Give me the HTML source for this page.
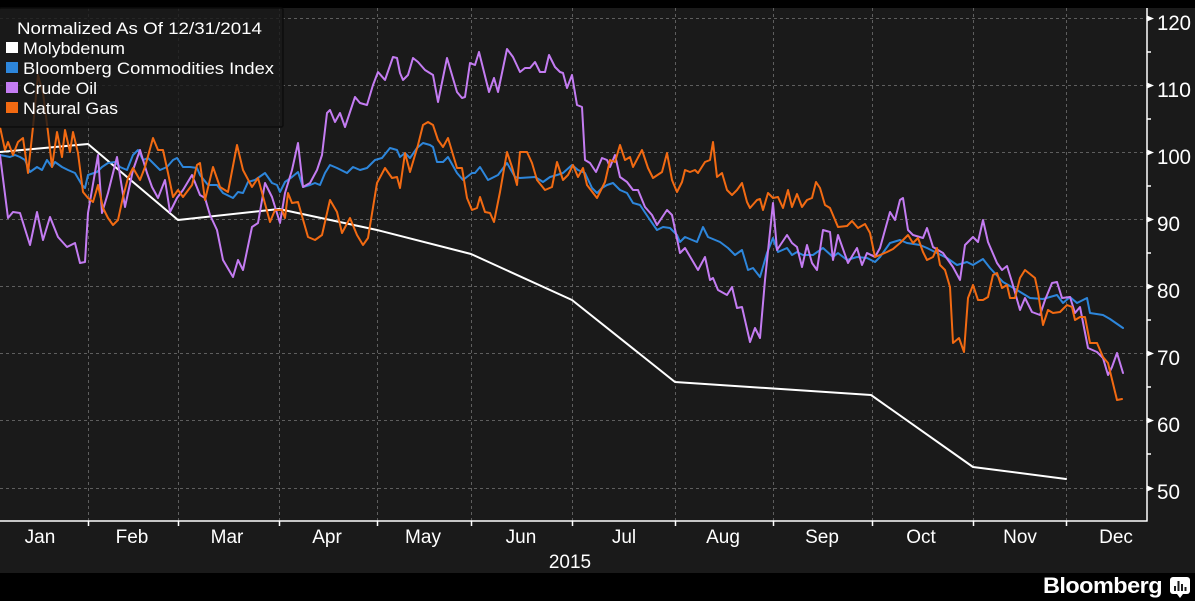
<!DOCTYPE html>
<html><head><meta charset="utf-8"><style>
html,body{margin:0;padding:0;background:#000;}
svg{display:block;}
text{font-family:"Liberation Sans","DejaVu Sans",sans-serif;fill:#fff;}
</style></head><body>
<svg width="1195" height="601" viewBox="0 0 1195 601" xmlns="http://www.w3.org/2000/svg">
<rect x="0" y="0" width="1195" height="601" fill="#000"/>
<rect x="0" y="8" width="1195" height="565" fill="#1a1a1a"/>
<!-- grid -->
<g stroke="#5e5e5e" stroke-width="1" stroke-dasharray="3,3" fill="none">
<line x1="0" y1="18.5" x2="1147" y2="18.5"/>
<line x1="0" y1="85.5" x2="1147" y2="85.5"/>
<line x1="0" y1="152.5" x2="1147" y2="152.5"/>
<line x1="0" y1="219.5" x2="1147" y2="219.5"/>
<line x1="0" y1="286.5" x2="1147" y2="286.5"/>
<line x1="0" y1="353.5" x2="1147" y2="353.5"/>
<line x1="0" y1="420.5" x2="1147" y2="420.5"/>
<line x1="0" y1="488.5" x2="1147" y2="488.5"/>
<line x1="88.5" y1="8" x2="88.5" y2="521"/>
<line x1="178.5" y1="8" x2="178.5" y2="521"/>
<line x1="279.5" y1="8" x2="279.5" y2="521"/>
<line x1="377.5" y1="8" x2="377.5" y2="521"/>
<line x1="471.5" y1="8" x2="471.5" y2="521"/>
<line x1="572.5" y1="8" x2="572.5" y2="521"/>
<line x1="675.5" y1="8" x2="675.5" y2="521"/>
<line x1="773.5" y1="8" x2="773.5" y2="521"/>
<line x1="872.5" y1="8" x2="872.5" y2="521"/>
<line x1="973.5" y1="8" x2="973.5" y2="521"/>
<line x1="1066.5" y1="8" x2="1066.5" y2="521"/>
</g>
<!-- series -->
<g fill="none" stroke-width="2" stroke-linejoin="round" stroke-linecap="round">
<polyline stroke="#ffffff" points="0,152 88,144 178,220 279,209 377,230 471,254 572,300 675,382 871,395 973,467 1066,479"/>
<polyline stroke="#2d86db" points="0,155 10,157 15,155 20,157 25,160 30,172 37,167 42,170 47,160 52,167 55,162 62,167 68,170 75,173 82,185 85,188 88,175 97,172 102,167 108,163 115,162 120,167 127,170 133,155 138,150 143,160 148,158 153,163 160,170 167,167 173,160 177,158 183,167 190,167 197,168 200,175 208,185 217,185 223,193 233,198 238,192 243,193 248,182 255,180 265,173 272,183 277,185 280,192 285,182 292,177 298,172 303,187 310,185 315,183 320,185 325,173 330,165 337,168 347,173 353,167 360,170 367,168 375,160 382,158 390,148 397,150 400,157 405,153 410,158 417,148 423,143 430,145 433,147 437,162 443,162 448,157 457,173 463,180 472,173 475,173 480,167 488,180 498,175 507,163 515,177 520,178 535,177 540,180 543,182 550,177 557,175 563,173 572,165 578,170 585,173 592,188 597,193 602,188 607,185 613,183 620,190 627,193 633,203 640,205 648,217 657,230 663,227 670,228 677,235 680,242 685,237 697,242 703,227 708,237 720,242 728,248 735,255 742,250 748,270 753,268 760,277 767,253 773,238 778,252 787,248 792,255 797,252 803,255 813,255 823,248 833,257 838,253 847,260 857,257 867,258 875,262 880,257 890,243 900,240 907,243 920,245 927,248 937,253 947,258 957,265 967,262 973,265 983,259 990,268 1003,282 1017,290 1030,298 1043,299 1057,295 1063,303 1070,297 1077,303 1087,298 1090,313 1103,315 1110,319 1123,328"/>
<polyline stroke="#c47cf2" points="0,155 8,218 13,212 20,213 30,245 37,212 43,240 50,217 58,237 67,247 75,243 80,263 85,262 88,213 98,155 102,213 108,193 117,157 125,207 133,170 140,150 147,173 152,187 158,198 165,180 170,212 177,198 183,190 192,175 200,195 205,198 210,215 217,230 223,260 233,277 238,260 243,270 252,227 258,223 265,183 272,197 280,223 285,193 292,170 298,143 303,187 310,183 317,170 322,155 327,113 330,110 335,122 340,113 345,127 355,97 360,103 367,105 373,85 378,72 385,80 393,57 397,58 400,73 403,80 408,75 413,58 418,62 425,70 433,75 438,102 447,58 457,92 462,98 465,97 470,63 475,65 479,52 489,92 494,78 498,92 507,49 513,57 520,72 525,68 530,68 535,62 540,72 545,72 549,55 555,67 560,72 563,73 567,88 572,75 577,105 582,107 585,160 590,163 596,172 602,158 607,160 610,167 615,155 620,177 627,182 633,190 638,190 645,207 652,215 657,225 667,210 672,215 680,253 685,248 698,270 705,257 710,280 713,278 718,290 727,295 732,287 737,308 742,307 750,342 755,328 760,338 765,280 773,203 777,250 787,235 792,243 797,247 802,267 807,245 812,263 817,270 823,230 830,232 833,260 838,235 848,263 857,248 862,265 867,253 875,257 880,248 890,212 895,220 900,200 903,198 908,230 913,235 923,238 927,228 933,247 943,253 953,267 960,280 965,245 973,237 978,242 983,220 988,242 997,263 1002,270 1007,266 1012,282 1020,310 1025,298 1032,312 1040,315 1045,300 1052,283 1057,282 1062,298 1070,297 1075,313 1080,307 1088,348 1097,352 1103,358 1108,375 1112,367 1117,353 1123,373"/>
<polyline stroke="#f26a12" points="0,127 5,150 8,142 13,155 18,142 23,138 28,173 33,127 38,75 43,93 48,132 52,167 57,132 62,157 65,130 70,152 73,132 78,153 83,192 88,198 93,202 98,185 103,208 108,218 113,225 118,220 123,197 128,178 133,168 140,180 145,167 153,138 158,150 163,150 168,173 173,197 178,190 183,197 192,185 197,165 200,163 205,200 213,167 220,187 228,192 237,145 243,170 252,187 258,178 270,222 275,210 282,210 285,218 288,193 292,203 298,202 308,237 315,240 322,235 330,200 337,212 342,233 350,218 357,235 363,245 368,238 377,183 385,168 392,178 397,177 400,188 405,153 410,172 418,145 423,125 428,122 433,125 438,140 443,147 448,138 457,168 462,168 467,198 472,210 477,208 480,197 485,212 490,213 494,222 500,192 507,152 512,167 517,185 520,152 527,152 532,163 537,180 545,190 552,187 557,162 563,180 568,175 573,165 578,177 583,168 587,185 597,198 605,182 610,160 615,162 620,145 625,160 630,157 633,167 642,150 648,168 653,178 662,172 667,153 672,180 677,192 682,182 685,170 690,172 695,170 698,173 705,162 710,160 713,142 717,177 722,173 727,190 732,195 737,190 742,183 747,202 750,208 757,200 760,199 763,210 768,193 773,198 778,197 783,208 788,190 792,207 797,194 802,207 807,200 812,198 816,182 820,188 825,205 830,208 838,227 847,226 852,221 858,228 865,224 870,233 875,257 880,255 887,252 893,249 900,243 908,235 913,243 918,238 923,252 927,260 933,257 937,248 940,265 945,270 950,287 953,343 959,338 964,352 968,298 973,285 978,300 983,300 988,297 993,275 997,273 1002,288 1007,285 1010,298 1015,298 1020,278 1025,270 1035,278 1038,292 1043,325 1048,310 1053,313 1060,312 1067,305 1072,307 1075,320 1080,317 1085,317 1090,343 1097,343 1103,357 1108,363 1117,400 1122,399"/>
</g>
<!-- legend -->
<rect x="-1" y="8" width="284" height="119" rx="2" fill="#1a1a1a" fill-opacity="0.82" stroke="#0c0c0c" stroke-width="1.5"/>
<text x="17" y="34" font-size="17" textLength="245" lengthAdjust="spacingAndGlyphs">Normalized As Of 12/31/2014</text>
<rect x="6" y="42" width="12" height="11" fill="#ffffff"/>
<text x="23" y="54" font-size="17" textLength="102" lengthAdjust="spacingAndGlyphs">Molybdenum</text>
<rect x="6" y="62" width="12" height="11" fill="#2d86db"/>
<text x="23" y="74" font-size="17" textLength="251" lengthAdjust="spacingAndGlyphs">Bloomberg Commodities Index</text>
<rect x="6" y="82" width="12" height="11" fill="#c47cf2"/>
<text x="23" y="94" font-size="17" textLength="74" lengthAdjust="spacingAndGlyphs">Crude Oil</text>
<rect x="6" y="102" width="12" height="11" fill="#f26a12"/>
<text x="23" y="114" font-size="17" textLength="95" lengthAdjust="spacingAndGlyphs">Natural Gas</text>
<!-- axes -->
<g stroke="#ffffff" stroke-width="1.5" fill="none">
<line x1="0" y1="521" x2="1147.5" y2="521"/>
<line x1="1147" y1="8" x2="1147" y2="521.5"/>
<line x1="88.5" y1="521" x2="88.5" y2="526"/>
<line x1="178.5" y1="521" x2="178.5" y2="526"/>
<line x1="279.5" y1="521" x2="279.5" y2="526"/>
<line x1="377.5" y1="521" x2="377.5" y2="526"/>
<line x1="471.5" y1="521" x2="471.5" y2="526"/>
<line x1="572.5" y1="521" x2="572.5" y2="526"/>
<line x1="675.5" y1="521" x2="675.5" y2="526"/>
<line x1="773.5" y1="521" x2="773.5" y2="526"/>
<line x1="872.5" y1="521" x2="872.5" y2="526"/>
<line x1="973.5" y1="521" x2="973.5" y2="526"/>
<line x1="1066.5" y1="521" x2="1066.5" y2="526"/>
<line x1="1147" y1="52" x2="1151" y2="52"/>
<line x1="1147" y1="119" x2="1151" y2="119"/>
<line x1="1147" y1="186" x2="1151" y2="186"/>
<line x1="1147" y1="253" x2="1151" y2="253"/>
<line x1="1147" y1="320" x2="1151" y2="320"/>
<line x1="1147" y1="387" x2="1151" y2="387"/>
<line x1="1147" y1="454" x2="1151" y2="454"/>
</g>
<g fill="#ffffff">
<polygon points="1147,15.5 1154,18.5 1147,21.5"/>
<polygon points="1147,82.5 1154,85.5 1147,88.5"/>
<polygon points="1147,149.5 1154,152.5 1147,155.5"/>
<polygon points="1147,216.5 1154,219.5 1147,222.5"/>
<polygon points="1147,283.5 1154,286.5 1147,289.5"/>
<polygon points="1147,350.5 1154,353.5 1147,356.5"/>
<polygon points="1147,417.5 1154,420.5 1147,423.5"/>
<polygon points="1147,485.5 1154,488.5 1147,491.5"/>
</g>
<g font-size="21">
<text x="1157" y="30" textLength="34" lengthAdjust="spacingAndGlyphs">120</text>
<text x="1157" y="97" textLength="34" lengthAdjust="spacingAndGlyphs">110</text>
<text x="1157" y="164" textLength="34" lengthAdjust="spacingAndGlyphs">100</text>
<text x="1157" y="231" textLength="23" lengthAdjust="spacingAndGlyphs">90</text>
<text x="1157" y="298" textLength="23" lengthAdjust="spacingAndGlyphs">80</text>
<text x="1157" y="365" textLength="23" lengthAdjust="spacingAndGlyphs">70</text>
<text x="1157" y="432" textLength="23" lengthAdjust="spacingAndGlyphs">60</text>
<text x="1157" y="499" textLength="23" lengthAdjust="spacingAndGlyphs">50</text>
</g>
<g font-size="19" text-anchor="middle">
<text x="40" y="543">Jan</text>
<text x="132" y="543">Feb</text>
<text x="227" y="543">Mar</text>
<text x="327" y="543">Apr</text>
<text x="423" y="543">May</text>
<text x="521" y="543">Jun</text>
<text x="624" y="543">Jul</text>
<text x="723" y="543">Aug</text>
<text x="822" y="543">Sep</text>
<text x="921" y="543">Oct</text>
<text x="1020" y="543">Nov</text>
<text x="1116" y="543">Dec</text>
<text x="570" y="568">2015</text>
</g>
<!-- logo -->
<text x="1043" y="593" font-size="22" font-weight="bold" textLength="119" lengthAdjust="spacingAndGlyphs" style="letter-spacing:-0.5px">Bloomberg</text>
<rect x="1170" y="577" width="20" height="17" rx="3" fill="#ffffff"/>
<polygon points="1177,594 1183,594 1180,598" fill="#ffffff"/>
<g fill="#1a1a1a">
<rect x="1174" y="586" width="2" height="5"/>
<rect x="1177.5" y="581" width="2" height="10"/>
<rect x="1181" y="584" width="2" height="7"/>
<rect x="1184.5" y="587" width="2" height="4"/>
</g>
</svg>
</body></html>
